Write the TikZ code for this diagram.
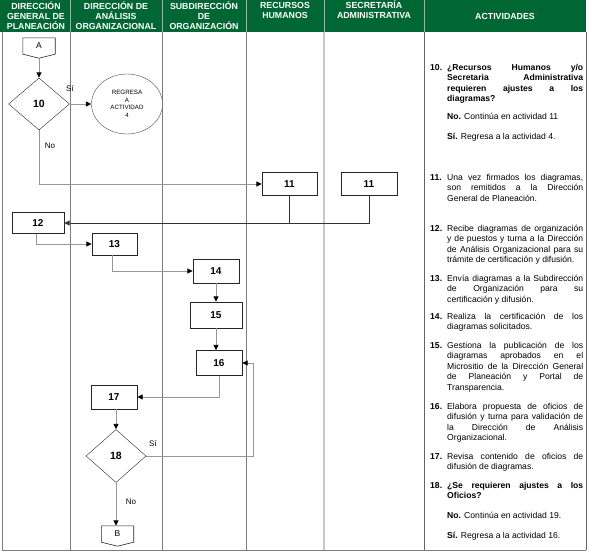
\documentclass[tikz,border=0pt]{standalone}
\usepackage{fontspec}
\setmainfont{Liberation Sans}
\usetikzlibrary{positioning,arrows.meta,calc,shapes.geometric}
\definecolor{hdgreen}{RGB}{0,102,51}
\definecolor{lanegrey}{RGB}{125,125,125}
\definecolor{lanelight}{RGB}{200,200,200}
\definecolor{wiregrey}{RGB}{150,150,150}
\tikzset{
  hdr/.style ={font=\fontsize{8.8}{10}\selectfont\bfseries, text=white, align=center, inner sep=0pt},
  stp/.style ={draw=black!85, fill=white, font=\fontsize{10}{12}\selectfont\bfseries, inner sep=0pt},
  dec/.style ={diamond, draw=black!85, fill=white, font=\fontsize{10.5}{12}\selectfont\bfseries,
               inner sep=0pt, minimum width=61pt, minimum height=52pt},
  conn/.style={inner sep=0pt, minimum width=32pt, minimum height=16pt, font=\fontsize{8.5}{10}\selectfont},
  ar/.style  ={-{Triangle[length=5.5pt,width=5pt,color=black]}, draw=wiregrey, line width=0.9pt},
  dar/.style ={-{Triangle[length=5.5pt,width=5pt]}, draw=black!80, line width=0.8pt},
  lbl/.style ={font=\fontsize{8}{10}\selectfont, inner sep=0pt},
  num/.style ={anchor=north west, inner sep=0pt, font=\fontsize{8.6}{10.5}\selectfont\bfseries},
  txt/.style ={anchor=north west, inner sep=0pt, text width=136pt, align=justify,
               font=\fontsize{8.6}{10.5}\selectfont},
}

\begin{document}
\begin{tikzpicture}[x=1pt,y=-1pt]
\useasboundingbox (0,0) rectangle (590,554);
% header band and lanes
\fill[hdgreen] (0,0) rectangle (586,32);
\foreach \x in {70,162,246,324,424}{
  \draw[white!55!hdgreen, line width=0.6pt] (\x,0) -- (\x,32);
}
\foreach \x in {2,70,162,246}{
  \draw[lanegrey, line width=0.6pt] (\x,32) -- (\x,550);
}
\draw[lanelight, line width=1.6pt] (324,32) -- (324,550);
\draw[lanegrey!80!black, line width=0.8pt] (424,32) -- (424,550);
\draw[lanegrey!80!black, line width=0.8pt] (586,32) -- (586,550);
\draw[lanegrey, line width=0.8pt] (2,550) -- (586,550);

\node[hdr] (hdg) at (36,16)   {DIRECCIÓN\\GENERAL DE\\PLANEACIÓN};
\node[hdr] (hda) at (116,16)  {DIRECCIÓN DE\\ANÁLISIS\\ORGANIZACIONAL};
\node[hdr] (hso) at (204,16)  {SUBDIRECCIÓN\\DE\\ORGANIZACIÓN};
\node[hdr] (hrh) at (285,10)  {RECURSOS\\HUMANOS};
\node[hdr] (hsa) at (374,10)  {SECRETARÍA\\ADMINISTRATIVA};
\node[hdr] (hac) at (505,16)  {ACTIVIDADES};

% flow
\node[conn] (A) at (39,46) {A};
\draw[black!85, line width=0.6pt] (A.north west) -- (A.north east) -- (A.south east)
   -- ($(A.south)+(0,4)$) -- (A.south west) -- cycle;
\coordinate (Atip) at ($(A.south)+(0,4)$);
\node[dec] (d10) at (39,104) {10};
\node[ellipse, draw=black!70, fill=white, minimum width=71pt, minimum height=60pt, inner sep=0pt,
      align=center, font=\fontsize{6.2}{7.6}\selectfont] (back4) at (127,104) {REGRESA\\A\\ACTIVIDAD\\4};
\foreach \nm/\lab/\x/\y/\w/\h in {h11/11/289.5/184/55/23, s11/11/369/184/56/23,
                                  b12/12/38/223/52/21, b13/13/114.5/244/45/22,
                                  b14/14/216/271/46/24, b15/15/216/315/52/26,
                                  b16/16/219/363/46/25, b17/17/114/397/46/24}{
  \node[stp, minimum width=\w pt, minimum height=\h pt] (\nm) at (\x,\y) {\lab};
}
\node[dec, minimum width=60pt, minimum height=53pt] (d18) at (116,456) {18};
\node[conn] (B) at (117.5,534) {B};
\draw[black!85, line width=0.6pt] (B.north west) -- (B.north east) -- (B.south east)
   -- ($(B.south)+(0,4)$) -- (B.south west) -- cycle;

\draw[ar] (Atip) -- (d10.north);
\draw[ar] (d10.east) -- (back4.west);
\draw[ar] (d10.south) |- (h11.west);
\draw[dar] (s11.south) |- (b12.east);
\draw[black!80, line width=0.8pt] (h11.south) -- (h11.south |- b12.east);
\draw[ar] ([xshift=-2pt]b12.south) |- (b13.west);
\draw[ar] ([xshift=-2pt]b13.south) |- (b14.west);
\draw[ar] (b14.south) -- (b15.north);
\draw[ar] (b15.south) -- (b15.south |- b16.north);
\draw[ar] (b16.south) |- (b17.east);
\draw[ar] (d18.north |- b17.south) -- (d18.north);
\coordinate (ret) at (253,456);
\draw[ar] (d18.east) -- (ret) |- (b16.east);
\draw[ar] (d18.south) -- (d18.south |- B.north);

\node[lbl] (si10) at (70,89)   {Sí};
\node[lbl] (no10) at (50,146)  {No};
\node[lbl] (si18) at (153,444) {Sí};
\node[lbl] (no18) at (131,502) {No};

% activities
\node[num] (n10) at (430,62.5) {\strut 10.};
\node[txt] (t10) at (447,62.5) {\strut\bfseries ¿Recursos Humanos y/o\linebreak Secretaria Administrativa\linebreak
  requieren ajustes a los\linebreak diagramas?};
\node[txt] (o10) at (447,111.5) {\strut\textbf{No.} Continúa en actividad 11};
\node[txt] (r10) at (447,131.5) {\strut\textbf{Sí.} Regresa a la actividad 4.};
\node[num] (n11) at (430,172.5) {\strut 11.};
\node[txt] (t11) at (447,172.5) {\strut Una vez firmados los diagramas,\linebreak son remitidos a la Dirección\linebreak
  General de Planeación.};
\node[num] (n12) at (430,223.5) {\strut 12.};
\node[txt] (t12) at (447,223.5) {\strut Recibe diagramas de organización\linebreak y de puestos y turna a la Dirección\linebreak
  de Análisis Organizacional para su\linebreak trámite de certificación y difusión.};
\node[num] (n13) at (430,273.5) {\strut 13.};
\node[txt] (t13) at (447,273.5) {\strut Envía diagramas a la Subdirección\linebreak de Organización para su\linebreak
  certificación y difusión.};
\node[num] (n14) at (430,311.5) {\strut 14.};
\node[txt] (t14) at (447,311.5) {\strut Realiza la certificación de los\linebreak diagramas solicitados.};
\node[num] (n15) at (430,340.5) {\strut 15.};
\node[txt] (t15) at (447,340.5) {\strut Gestiona la publicación de los\linebreak diagramas aprobados en el\linebreak
  Micrositio de la Dirección General\linebreak de Planeación y Portal de\linebreak Transparencia.};
\node[num] (n16) at (430,401.5) {\strut 16.};
\node[txt] (t16) at (447,401.5) {\strut Elabora propuesta de oficios de\linebreak difusión y turna para validación de\linebreak
  la Dirección de Análisis\linebreak Organizacional.};
\node[num] (n17) at (430,451.5) {\strut 17.};
\node[txt] (t17) at (447,451.5) {\strut Revisa contenido de oficios de\linebreak difusión de diagramas.};
\node[num] (n18) at (430,480.5) {\strut 18.};
\node[txt] (t18) at (447,480.5) {\strut\bfseries ¿Se requieren ajustes a los\linebreak Oficios?};
\node[txt] (o18) at (447,511) {\strut\textbf{No.} Continúa en actividad 19.};
\node[txt] (r18) at (447,531) {\strut\textbf{Sí.} Regresa a la actividad 16.};
\end{tikzpicture}
\end{document}
